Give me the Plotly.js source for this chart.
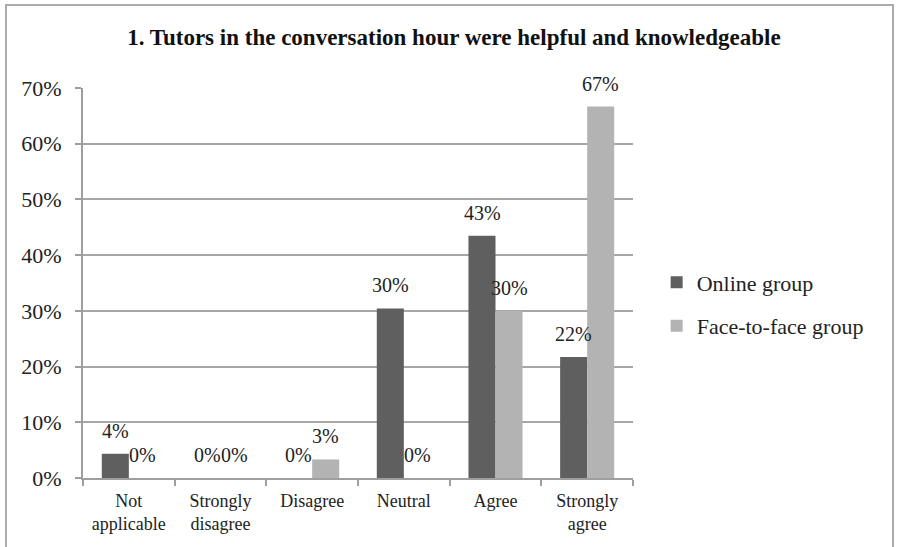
<!DOCTYPE html>
<html>
<head>
<meta charset="utf-8">
<script src="https://cdn.plot.ly/plotly-3.0.1.min.js"></script>
<style>
html,body{margin:0;padding:0;background:#fff;}
#wrap{position:relative;width:897px;height:547px;}
#frame{position:absolute;left:5px;top:4px;width:889px;height:560px;border:2px solid #ababab;border-bottom:none;box-sizing:border-box;pointer-events:none;}
#chart{position:absolute;left:0;top:0;width:897px;height:547px;}
</style>
</head>
<body>
<div id="wrap"><div id="chart"></div><div id="frame"></div></div>
<script>
const categories = ["Not<br>applicable", "Strongly<br>disagree", "Disagree", "Neutral", "Agree", "Strongly<br>agree"];
const onlineValues = [4.35, 0, 0, 30.43, 43.48, 21.74];
const faceValues = [0, 0, 3.33, 0, 30.0, 66.67];
const seriesNames = ["Online group", "Face-to-face group"];
const yTickVals = [0, 10, 20, 30, 40, 50, 60, 70];
const yTickText = ["0%", "10%", "20%", "30%", "40%", "50%", "60%", "70%"];
const chartTitle = "1. Tutors in the conversation hour were helpful and knowledgeable";

const serif = "Liberation Serif";
function pct(v){ return Math.round(v) + "%"; }

const traces = [
  {type:"bar", name:seriesNames[0], x:categories, y:onlineValues,
   marker:{color:"#5f5f5f"}, legendgroup:"a", hoverinfo:"none"},
  {type:"bar", name:seriesNames[1], x:categories, y:faceValues,
   marker:{color:"#b3b3b3"}, legendgroup:"b", hoverinfo:"none"}
];

// value labels above each bar (outside end), placed via the data axes
const halfBar = 13.5;
const annotations = [];
[[onlineValues, -halfBar], [faceValues, halfBar]].forEach(([vals, dx]) => {
  vals.forEach((v, i) => {
    annotations.push({x:categories[i], y:v, xref:"x", yref:"y", text:pct(v),
      showarrow:false, xanchor:"center", yanchor:"bottom", xshift:dx, yshift:10,
      font:{family:serif, size:20, color:"#222"}});
  });
});

const layout = {
  width:897, height:547,
  margin:{l:83, r:264, t:88, b:69},
  paper_bgcolor:"#fff", plot_bgcolor:"#fff",
  font:{family:serif, color:"#222"},
  title:{text:"<b>"+chartTitle+"</b>", font:{family:serif, size:23, color:"#111"},
         x:0.506, xanchor:"center", y:0.933, yanchor:"middle"},
  barmode:"group", bargap:0.41, bargroupgap:0,
  showlegend:true,
  legend:{x:1.043, xanchor:"left", y:0.445, yanchor:"middle",
          font:{family:serif, size:22, color:"#222"},
          traceorder:"grouped", tracegroupgap:12, bgcolor:"rgba(0,0,0,0)"},
  annotations:annotations,
  xaxis:{type:"category", showline:true, linecolor:"#9e9e9e", linewidth:2,
         ticks:"outside", tickson:"boundaries", ticklen:6, tickcolor:"#9e9e9e", tickwidth:2,
         tickfont:{family:serif, size:18, color:"#222"}, ticklabelstandoff:5,
         showgrid:false, fixedrange:true},
  yaxis:{range:[0,70], tickvals:yTickVals, ticktext:yTickText, showline:true,
         linecolor:"#9e9e9e", linewidth:2, ticks:"outside", ticklen:6, tickcolor:"#9e9e9e", tickwidth:2,
         showgrid:true, gridcolor:"#a6a6a6", gridwidth:2, zeroline:false,
         tickfont:{family:serif, size:22, color:"#222"}, ticklabelstandoff:9, fixedrange:true}
};

Plotly.newPlot("chart", traces, layout, {displayModeBar:false, staticPlot:true});
</script>
</body>
</html>
